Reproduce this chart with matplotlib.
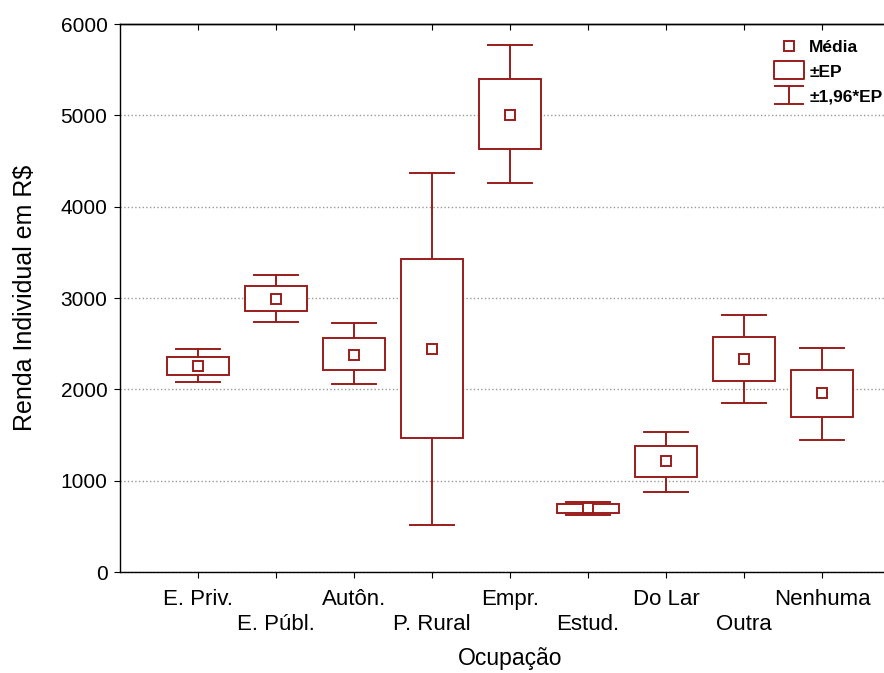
import matplotlib.pyplot as plt
import numpy as np
from matplotlib.lines import Line2D
from matplotlib.path import Path
from matplotlib.patches import Rectangle

plt.rcParams['font.family'] = ['Liberation Sans', 'DejaVu Sans']

# dados
ocupacao = ['E. Priv.', 'E. Públ.', 'Autôn.', 'P. Rural', 'Empr.',
            'Estud.', 'Do Lar', 'Outra', 'Nenhuma']
media = [2255, 2986, 2380, 2442, 5004, 700, 1215, 2332, 1960]
ep_sup = [2351, 3128, 2566, 3427, 5398, 745, 1380, 2573, 2212]
ep_inf = [2157, 2861, 2212, 1467, 4632, 646, 1040, 2091, 1697]
ic_sup = [2442, 3248, 2723, 4369, 5770, 766, 1533, 2814, 2453]
ic_inf = [2084, 2737, 2055, 515, 4259, 624, 876, 1850, 1445]

cor = '#9b1c1c'
lw = 1.4

fig = plt.figure(figsize=(8.84, 6.73), dpi=100)
ax = fig.add_axes([120/884, 1-572/673, 780/884, 548/673])

x = np.arange(len(ocupacao))
meia_caixa = 0.40
meio_traco = 0.28
for i in x:
    # bigodes (±1,96*EP)
    ax.plot([i, i], [ep_sup[i], ic_sup[i]], color=cor, lw=lw, zorder=3)
    ax.plot([i, i], [ep_inf[i], ic_inf[i]], color=cor, lw=lw, zorder=3)
    ax.plot([i-meio_traco, i+meio_traco], [ic_sup[i]]*2, color=cor, lw=lw, zorder=3)
    ax.plot([i-meio_traco, i+meio_traco], [ic_inf[i]]*2, color=cor, lw=lw, zorder=3)
    # caixa (±EP)
    ax.add_patch(Rectangle((i-meia_caixa, ep_inf[i]), 2*meia_caixa,
                           ep_sup[i]-ep_inf[i], facecolor='white',
                           edgecolor=cor, lw=lw, zorder=4))
ax.plot(x, media, ls='none', marker='s', ms=7, mfc='white', mec=cor,
        mew=lw, zorder=5)

ax.set_xlim(-1, 9)
ax.set_ylim(0, 6000)
ax.set_yticks(range(0, 6001, 1000))
ax.set_xticks(x)
rotulos = [t if k % 2 == 0 else '\n' + t for k, t in enumerate(ocupacao)]
ax.set_xticklabels(rotulos, fontsize=16, linespacing=1.3)
ax.tick_params(axis='x', direction='out', length=4, pad=8)
ax.tick_params(axis='y', direction='out', length=4, pad=5, labelsize=15)
# tracinhos de cima, para dentro
topo = ax.secondary_xaxis('top')
topo.set_xticks(x)
topo.tick_params(direction='in', length=4, labeltop=False)
topo.spines['top'].set_linewidth(1)

ax.yaxis.grid(True, ls=':', color='#999999', lw=1)
ax.set_axisbelow(True)
for s in ax.spines.values():
    s.set_color('black')
    s.set_linewidth(1)

ax.set_xlabel('Ocupação', fontsize=16.5, labelpad=8)
ax.set_ylabel('Renda Individual em R$', fontsize=18, labelpad=17)

# legenda
retangulo = Path([(-1, -0.6), (1, -0.6), (1, 0.6), (-1, 0.6), (-1, -0.6)],
                 [Path.MOVETO, Path.LINETO, Path.LINETO, Path.LINETO, Path.CLOSEPOLY])
bigode = Path([(-1, 0.6), (1, 0.6), (0, 0.6), (0, -0.6), (-1, -0.6), (1, -0.6)],
              [Path.MOVETO, Path.LINETO, Path.MOVETO, Path.LINETO,
               Path.MOVETO, Path.LINETO])
alcas = [
    Line2D([], [], ls='none', marker='s', ms=7, mfc='white', mec=cor, mew=lw),
    Line2D([], [], ls='none', marker=retangulo, ms=22, mfc='white', mec=cor, mew=lw),
    Line2D([], [], ls='none', marker=bigode, ms=22, mfc='none', mec=cor, mew=lw),
]
leg = fig.legend(alcas, ['Média', '±EP', '±1,96*EP'], loc='upper left',
                 bbox_to_anchor=(764/884, 1-31/673), frameon=False,
                 prop={'size': 12.5, 'weight': 'bold'}, handlelength=1.85,
                 handletextpad=0.25, labelspacing=0.55, borderpad=0)

fig.savefig('out.png', dpi=100)
